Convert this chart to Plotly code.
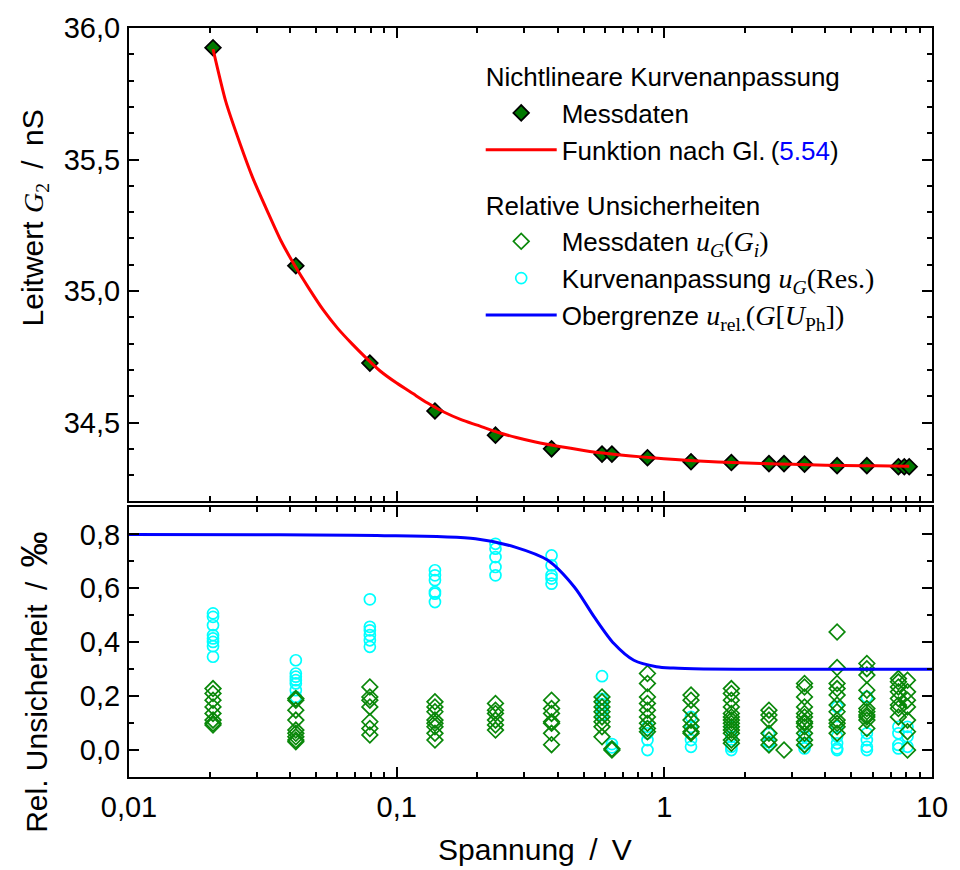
import plotly.graph_objects as go

# --- Leitwert G2 über der Spannung (oberes Diagramm) ---
spannung = [0.0206, 0.042, 0.0794, 0.139, 0.234, 0.379, 0.585, 0.637, 0.865, 1.258,
            1.78, 2.46, 2.80, 3.34, 4.42, 5.71, 7.49, 7.88, 8.22]
leitwert = [35.925, 35.096, 34.726, 34.544, 34.452, 34.400, 34.380, 34.380, 34.366, 34.351,
            34.348, 34.344, 34.344, 34.342, 34.336, 34.336, 34.332, 34.332, 34.332]

# Ausgleichsfunktion nach Gl. (5.54), Stützstellen
fit_u = [0.0206, 0.023, 0.026, 0.029, 0.033, 0.037, 0.042, 0.047, 0.053, 0.06,
         0.068, 0.077, 0.087, 0.1, 0.115, 0.13, 0.15, 0.175, 0.2, 0.24,
         0.28, 0.33, 0.4, 0.5, 0.6, 0.75, 0.9, 1.1, 1.4, 1.8,
         2.3, 3.0, 4.0, 5.5, 7.0, 8.22]
fit_g = [35.92, 35.72, 35.56, 35.43, 35.30, 35.19, 35.09, 35.01, 34.93, 34.86,
         34.80, 34.745, 34.695, 34.65, 34.61, 34.575, 34.54, 34.51, 34.49, 34.462,
         34.443, 34.426, 34.41, 34.394, 34.383, 34.373, 34.366, 34.359, 34.353, 34.348,
         34.344, 34.341, 34.338, 34.336, 34.335, 34.334]

# --- Relative Unsicherheiten in Promille (unteres Diagramm) ---
spannung_unsich = [0.0206, 0.042, 0.0794, 0.139, 0.234, 0.379, 0.585, 0.637, 0.865, 1.258,
                   1.78, 2.46, 2.80, 3.34, 4.42, 5.71, 7.49, 8.10]

u_messdaten = [
    [0.228, 0.21, 0.185, 0.16, 0.136, 0.111, 0.099, 0.093],
    [0.191, 0.185, 0.148, 0.111, 0.074, 0.062, 0.049, 0.037, 0.031],
    [0.234, 0.197, 0.185, 0.16, 0.105, 0.08, 0.056],
    [0.179, 0.16, 0.142, 0.111, 0.099, 0.086, 0.062, 0.037],
    [0.173, 0.148, 0.136, 0.111, 0.093, 0.074],
    [0.185, 0.154, 0.136, 0.105, 0.099, 0.062, 0.02],
    [0.197, 0.179, 0.16, 0.142, 0.123, 0.105, 0.086, 0.049],
    [0.005, 0.0],
    [0.284, 0.247, 0.197, 0.173, 0.148, 0.123, 0.099, 0.080, 0.068],
    [0.204, 0.185, 0.148, 0.111, 0.086, 0.068, 0.062],
    [0.228, 0.21, 0.185, 0.16, 0.136, 0.123, 0.111, 0.099, 0.086, 0.074, 0.062, 0.037, 0.025],
    [0.148, 0.13, 0.111, 0.062, 0.037, 0.019],
    [0.0],
    [0.247, 0.234, 0.197, 0.16, 0.136, 0.123, 0.105, 0.099, 0.086, 0.062, 0.037, 0.019],
    [0.438, 0.306, 0.247, 0.228, 0.204, 0.167, 0.142, 0.111, 0.099, 0.086, 0.062],
    [0.321, 0.302, 0.278, 0.222, 0.191, 0.154, 0.142, 0.13, 0.123, 0.111, 0.08],
    [0.265, 0.253, 0.234, 0.216, 0.191, 0.167, 0.154, 0.123],
    [0.259, 0.216, 0.185, 0.16, 0.111, 0.068, 0.0],
]

u_residuen = [
    [0.507, 0.494, 0.463, 0.426, 0.414, 0.401, 0.385, 0.346],
    [0.333, 0.284, 0.272, 0.259, 0.247, 0.222, 0.197],
    [0.559, 0.457, 0.444, 0.426, 0.407, 0.383],
    [0.667, 0.648, 0.63, 0.586, 0.58, 0.549],
    [0.765, 0.747, 0.716, 0.679, 0.648],
    [0.722, 0.685, 0.648, 0.636, 0.617],
    [0.274, 0.19, 0.17, 0.15, 0.13],
    [0.022, 0.01],
    [0.086, 0.062, 0.037, 0.0],
    [0.123, 0.086, 0.037, 0.012],
    [0.086, 0.049, 0.012, 0.0],
    [0.06, 0.03, 0.02],
    [],
    [0.05, 0.025, 0.006],
    [0.16, 0.086, 0.05, 0.025, 0.006, 0.0],
    [0.197, 0.062, 0.037, 0.012, 0.0],
    [0.086, 0.062, 0.019, 0.006],
    [0.086, 0.05, 0.012],
]

# Obergrenze der relativen Unsicherheit
ober_u = [0.01, 0.03, 0.0844, 0.197, 0.277, 0.367, 0.461, 0.547, 0.648, 0.769,
          0.934, 1.08, 1.4, 2.0, 10.0]
ober_y = [0.80, 0.799, 0.796, 0.784, 0.753, 0.704, 0.605, 0.494, 0.395, 0.333,
          0.309, 0.304, 0.301, 0.30, 0.30]

# Achsenbeschriftungen
x_ticks = [0.01, 0.1, 1, 10]
x_ticktext = ["0,01", "0,1", "1", "10"]
x_minor = [m * d for d in (0.01, 0.1, 1) for m in range(2, 10)]
g_ticks = [34.5, 35.0, 35.5, 36.0]
g_ticktext = ["34,5", "35,0", "35,5", "36,0"]
u_ticks = [0.0, 0.2, 0.4, 0.6, 0.8]
u_ticktext = ["0,0", "0,2", "0,4", "0,6", "0,8"]

FONT = "Liberation Sans"
SERIF = "font-family:'Liberation Serif';font-size:28px"
NB = "\u00a0"
TS = "\u2009"
SLASH = f"{NB}{TS}/{TS}{NB}"


def math(s):
    return f"<span style=\"{SERIF}\">{s}</span>"


def flatten(xs, groups):
    px, py = [], []
    for x, vals in zip(xs, groups):
        for v in vals:
            px.append(x)
            py.append(v)
    return px, py


fig = go.Figure()

# oberes Diagramm
fig.add_trace(go.Scatter(
    x=spannung, y=leitwert, xaxis="x2", yaxis="y2", mode="markers",
    marker=dict(symbol="diamond", size=12, color="#007800",
                line=dict(color="black", width=1.8)),
    name="Messdaten", legendgroup="fit", legendrank=1,
    legendgrouptitle=dict(text="Nichtlineare Kurvenanpassung", font=dict(size=26, color="black")),
))
fig.add_trace(go.Scatter(
    x=fit_u, y=fit_g, xaxis="x2", yaxis="y2", mode="lines",
    line=dict(color="#ff0000", width=3, shape="spline", smoothing=0.6),
    name="Funktion nach Gl." + TS + "(<span style=\"color:#0000ff\">5.54</span>)",
    legendgroup="fit", legendrank=2,
))

# unteres Diagramm
rx, ry = flatten(spannung_unsich, u_residuen)
mx, my = flatten(spannung_unsich, u_messdaten)
fig.add_trace(go.Scatter(
    x=rx, y=ry, xaxis="x", yaxis="y", mode="markers",
    marker=dict(symbol="circle-open", size=11, color="#00ffff", line=dict(width=1.7)),
    name="Kurvenanpassung " + math("<i>u</i><sub><i>G</i></sub>(Res.)"),
    legendgroup="unsich", legendrank=4,
))
fig.add_trace(go.Scatter(
    x=mx, y=my, xaxis="x", yaxis="y", mode="markers",
    marker=dict(symbol="diamond-open", size=12, color="#0a880a", line=dict(width=1.7)),
    name="Messdaten " + math("<i>u</i><sub><i>G</i></sub>(<i>G</i><sub><i>i</i></sub>)"),
    legendgroup="unsich", legendrank=3,
    legendgrouptitle=dict(text="Relative Unsicherheiten", font=dict(size=26, color="black")),
))
fig.add_trace(go.Scatter(
    x=ober_u, y=ober_y, xaxis="x", yaxis="y", mode="lines",
    line=dict(color="#0000ff", width=3, shape="spline", smoothing=0.8),
    name="Obergrenze " + math("<i>u</i><sub>rel.</sub>(<i>G</i>[<i>U</i><sub>Ph</sub>])"),
    legendgroup="unsich", legendrank=5,
))

axis_style = dict(
    showline=True, linewidth=2, linecolor="black", mirror="ticks",
    ticks="inside", ticklen=10, tickwidth=2, tickcolor="black",
    showgrid=False, zeroline=False,
    tickfont=dict(family=FONT, size=29, color="black"),
)
minor_style = dict(ticks="inside", ticklen=5, tickwidth=2, tickcolor="black", showgrid=False)

fig.update_layout(
    width=960, height=870,
    margin=dict(l=129, r=18, t=24, b=93),
    paper_bgcolor="white", plot_bgcolor="white",
    font=dict(family=FONT, size=26, color="black"),
    xaxis=dict(domain=[0, 1], anchor="y", type="log", range=[-2, 1],
               tickvals=x_ticks, ticktext=x_ticktext, ticklabelstandoff=3,
               minor=dict(tickvals=x_minor, **minor_style),
               **axis_style),
    xaxis2=dict(domain=[0, 1], anchor="y2", type="log", range=[-2, 1], matches="x",
                tickvals=x_ticks, showticklabels=False,
                minor=dict(tickvals=x_minor, **minor_style),
                **axis_style),
    yaxis=dict(domain=[0, 0.3599], anchor="x", range=[-0.1, 0.9],
               tickvals=u_ticks, ticktext=u_ticktext, ticklabelstandoff=1,
               minor=dict(dtick=0.1, tick0=0, **minor_style),
               **axis_style),
    yaxis2=dict(domain=[0.3679, 1], anchor="x2", range=[34.2, 36.0],
                tickvals=g_ticks, ticktext=g_ticktext, ticklabelstandoff=1,
                minor=dict(dtick=0.1, tick0=34.0, **minor_style),
                **axis_style),
    showlegend=True,
    legend=dict(x=0.438, y=0.967, xanchor="left", yanchor="top",
                bgcolor="rgba(0,0,0,0)", borderwidth=0, traceorder="grouped",
                tracegroupgap=18, itemwidth=71,
                font=dict(family=FONT, size=26, color="black"),
                grouptitlefont=dict(family=FONT, size=26, color="black")),
)

# Achsentitel
fig.add_annotation(text=f"Spannung{SLASH}V", xref="paper", yref="paper",
                   x=0.5055, y=-0.097, xanchor="center", yanchor="middle",
                   showarrow=False, font=dict(family=FONT, size=30))
fig.add_annotation(text=f"Leitwert {math('<i>G</i><sub>2</sub>')}{SLASH}nS",
                   xref="paper", yref="paper", x=-0.118, y=0.746, textangle=-90,
                   xanchor="center", yanchor="middle", showarrow=False,
                   font=dict(family=FONT, size=30))
fig.add_annotation(text=f"Rel. Unsicherheit{SLASH}<span style=\"font-size:36px\">‰</span>",
                   xref="paper", yref="paper", x=-0.118, y=0.126, textangle=-90,
                   xanchor="center", yanchor="middle", showarrow=False,
                   font=dict(family=FONT, size=30))

fig.write_html("out.html")
